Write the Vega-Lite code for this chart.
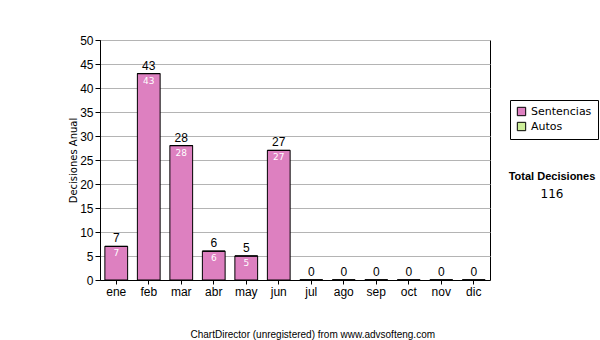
{
  "$schema": "https://vega.github.io/schema/vega-lite/v6.json",
  "autosize": "none",
  "width": 390,
  "height": 240,
  "padding": {"left": 100, "top": 40, "right": 110, "bottom": 60},
  "background": "white",
  "config": {
    "view": {"stroke": "black", "strokeWidth": 1},
    "axis": {"labelFont": "Liberation Sans", "labelFontSize": 12, "labelColor": "black", "domainColor": "black", "tickColor": "black"}
  },
  "title": {
    "text": "Total Decisiones",
    "subtitle": "116",
    "anchor": "end",
    "align": "center",
    "frame": "group",
    "dx": 62,
    "dy": 170,
    "font": "Liberation Sans",
    "fontSize": 11,
    "fontWeight": "bold",
    "color": "black",
    "subtitleFont": "DejaVu Sans",
    "subtitleFontSize": 12,
    "subtitleColor": "black",
    "subtitlePadding": 7
  },
  "data": {
    "values": [
      {"mes": "ene", "tipo": "Sentencias", "valor": 7},
      {"mes": "feb", "tipo": "Sentencias", "valor": 43},
      {"mes": "mar", "tipo": "Sentencias", "valor": 28},
      {"mes": "abr", "tipo": "Sentencias", "valor": 6},
      {"mes": "may", "tipo": "Sentencias", "valor": 5},
      {"mes": "jun", "tipo": "Sentencias", "valor": 27},
      {"mes": "jul", "tipo": "Sentencias", "valor": 0},
      {"mes": "ago", "tipo": "Sentencias", "valor": 0},
      {"mes": "sep", "tipo": "Sentencias", "valor": 0},
      {"mes": "oct", "tipo": "Sentencias", "valor": 0},
      {"mes": "nov", "tipo": "Sentencias", "valor": 0},
      {"mes": "dic", "tipo": "Sentencias", "valor": 0},
      {"mes": "ene", "tipo": "Autos", "valor": 0},
      {"mes": "feb", "tipo": "Autos", "valor": 0},
      {"mes": "mar", "tipo": "Autos", "valor": 0},
      {"mes": "abr", "tipo": "Autos", "valor": 0},
      {"mes": "may", "tipo": "Autos", "valor": 0},
      {"mes": "jun", "tipo": "Autos", "valor": 0},
      {"mes": "jul", "tipo": "Autos", "valor": 0},
      {"mes": "ago", "tipo": "Autos", "valor": 0},
      {"mes": "sep", "tipo": "Autos", "valor": 0},
      {"mes": "oct", "tipo": "Autos", "valor": 0},
      {"mes": "nov", "tipo": "Autos", "valor": 0},
      {"mes": "dic", "tipo": "Autos", "valor": 0}
    ]
  },
  "encoding": {
    "x": {
      "field": "mes", "type": "nominal",
      "sort": ["ene","feb","mar","abr","may","jun","jul","ago","sep","oct","nov","dic"],
      "scale": {"paddingInner": 0.3, "paddingOuter": 0.15},
      "axis": {
        "labelAngle": 0, "tickSize": 4, "labelPadding": 2, "grid": false,
        "title": "ChartDirector (unregistered) from www.advsofteng.com",
        "titleFont": "Liberation Sans", "titleFontSize": 10, "titleFontWeight": "normal",
        "titleColor": "black", "titleAnchor": "start", "titleAlign": "left", "titleBaseline": "middle",
        "titleX": 90, "titleY": 54
      }
    },
    "y": {
      "field": "valor", "type": "quantitative", "aggregate": "sum",
      "scale": {"domain": [0, 50], "nice": false},
      "axis": {
        "values": [0,5,10,15,20,25,30,35,40,45,50],
        "labelOverlap": false, "labelFlush": false,
        "grid": true, "gridColor": "#b4b4b4", "tickSize": 5, "labelPadding": 2,
        "title": "Decisiones Anual", "titleFont": "DejaVu Sans", "titleFontSize": 10,
        "titleFontWeight": "normal", "titleColor": "black", "titlePadding": 1
      }
    }
  },
  "layer": [
    {
      "mark": {"type": "bar", "stroke": "black", "strokeWidth": 1},
      "encoding": {
        "color": {
          "field": "tipo", "type": "nominal",
          "scale": {"domain": ["Sentencias", "Autos"], "range": ["#dd80c0", "#ccee99"]},
          "legend": {
            "title": null, "orient": "none", "legendX": 410, "legendY": 60,
            "symbolType": "square", "symbolSize": 70, "symbolStrokeColor": "black", "symbolStrokeWidth": 1,
            "symbolOpacity": 1,
            "labelFont": "DejaVu Sans", "labelFontSize": 11, "labelColor": "black",
            "strokeColor": "black", "fillColor": "white", "padding": 6, "rowPadding": 2
          }
        },
        "order": {"field": "tipo", "sort": "descending"}
      }
    },
    {
      "transform": [{"filter": "datum.tipo == 'Sentencias' && datum.valor > 0"}],
      "mark": {"type": "text", "color": "white", "fontSize": 9, "font": "DejaVu Sans", "baseline": "top", "dy": 3},
      "encoding": {
        "y": {"field": "valor", "type": "quantitative"},
        "text": {"field": "valor"}
      }
    },
    {
      "transform": [{"aggregate": [{"op": "sum", "field": "valor", "as": "total"}], "groupby": ["mes"]}],
      "mark": {"type": "text", "color": "black", "fontSize": 12, "font": "Liberation Sans", "baseline": "bottom", "dy": -1},
      "encoding": {
        "y": {"field": "total", "type": "quantitative"},
        "text": {"field": "total"}
      }
    }
  ]
}
